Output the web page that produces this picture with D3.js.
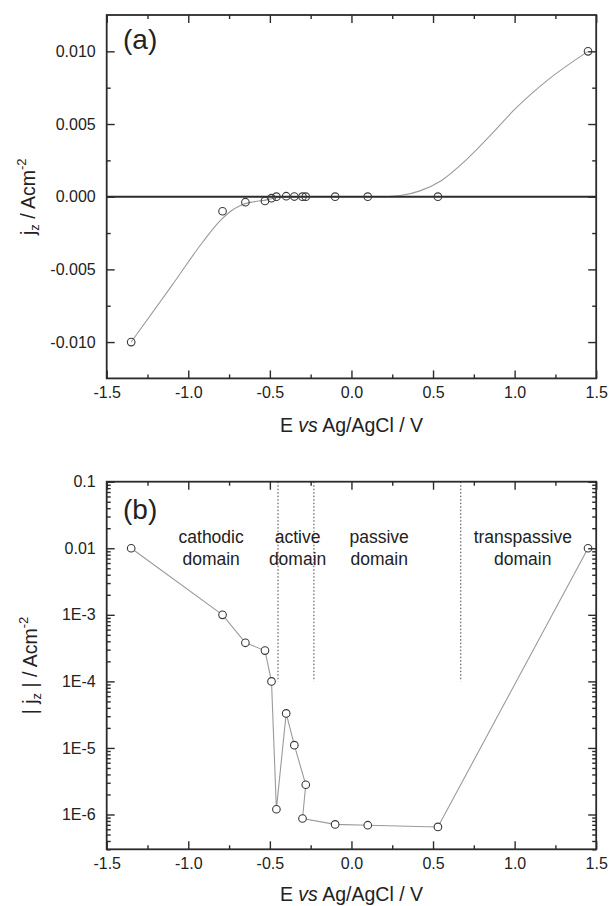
<!DOCTYPE html>
<html>
<head>
<meta charset="utf-8">
<script src="https://cdn.jsdelivr.net/npm/d3@7"></script>
<style>
  body { margin: 0; background: #fff; }
  svg text { font-family: "Liberation Sans", Arial, sans-serif; fill: #222; }
</style>
</head>
<body>
<svg id="chart" width="609" height="906"></svg>
<script>
// Measured points: potential E (V vs Ag/AgCl) and current density jz (A/cm2)
var potential = [-1.35, -0.79, -0.65, -0.53, -0.49, -0.46, -0.40, -0.35, -0.28, -0.30, -0.10, 0.10, 0.53, 1.45];
var current   = [-0.010, -0.001, -0.00038, -0.00029, -0.0001, 1.2e-6, 3.3e-5, 1.1e-5, 2.8e-6, 8.7e-7, 7.1e-7, 6.9e-7, 6.5e-7, 0.010];

// Smoothed curve of panel (a)
var fitE = [-1.35, -1.10, -0.91, -0.80, -0.74, -0.68, -0.60, -0.52, -0.45, -0.30, 0.00, 0.20, 0.30, 0.42, 0.55, 0.70, 0.85, 1.00, 1.20, 1.45];
var fitJ = [-0.0100, -0.0061, -0.0031, -0.0016, -0.0010, -0.0006, -0.00035, -0.00022, -0.00005, 0, 0, 0, 0.00008, 0.0004, 0.0011, 0.0025, 0.0042, 0.0060, 0.0080, 0.0100];

// Ticks
var xTicks = [-1.5, -1.0, -0.5, 0.0, 0.5, 1.0, 1.5];
var xMinorTicks = [-1.25, -0.75, -0.25, 0.25, 0.75, 1.25];
var jTicks = [-0.010, -0.005, 0.000, 0.005, 0.010];
var jMinorTicks = [-0.0075, -0.0025, 0.0025, 0.0075];
var logTicks = [1e-6, 1e-5, 1e-4, 1e-3, 0.01, 0.1];
var logTickLabels = ["1E-6", "1E-5", "1E-4", "1E-3", "0.01", "0.1"];

// Domain boundaries (dotted lines) and domain names of panel (b)
var domainBounds = [-0.45, -0.23, 0.67];
var domainNames = [["cathodic", "domain"], ["active", "domain"], ["passive", "domain"], ["transpassive", "domain"]];
var domainNameE = [-0.86, -0.33, 0.17, 1.05];


var svg = d3.select("#chart");

var x = d3.scaleLinear().domain([-1.5, 1.5]).range([106.7, 596.2]);
var ya = d3.scaleLinear().domain([-0.0125, 0.0125]).range([378.4, 15]);
var yb = d3.scaleLog().domain([3e-7, 0.1]).range([849.3, 481.7]);

var ink = "#2b2b2b";

// Frame with inward ticks on all four sides
function draw_frame(y, yMajor, yMinor, yFormat) {
  var top = y.range()[1], bottom = y.range()[0],
      left = x.range()[0], right = x.range()[1];
  var g = svg.append("g").attr("color", ink);

  function add(axis, tx, ty) {
    var a = g.append("g")
      .attr("transform", "translate(" + tx + "," + ty + ")")
      .call(axis)
      .attr("font-size", 16)
      .attr("font-family", '"Liberation Sans", Arial, sans-serif');
    a.select(".domain").remove();
    a.selectAll(".tick line").attr("stroke-width", 1.4);
    return a;
  }

  add(d3.axisBottom(x).tickValues(xTicks).tickSize(-8).tickPadding(8)
        .tickFormat(function(d) { return d.toFixed(1); }), 0, bottom);
  add(d3.axisBottom(x).tickValues(xMinorTicks).tickSize(-4).tickFormat(""), 0, bottom);
  add(d3.axisTop(x).tickValues(xTicks).tickSize(-8).tickFormat(""), 0, top);
  add(d3.axisTop(x).tickValues(xMinorTicks).tickSize(-4).tickFormat(""), 0, top);

  add(d3.axisLeft(y).tickValues(yMajor).tickSize(-8).tickPadding(11).tickFormat(yFormat), left, 0);
  add(d3.axisLeft(y).tickValues(yMinor).tickSize(-4).tickFormat(""), left, 0);
  add(d3.axisRight(y).tickValues(yMajor).tickSize(-8).tickFormat(""), right, 0);
  add(d3.axisRight(y).tickValues(yMinor).tickSize(-4).tickFormat(""), right, 0);

  g.append("rect")
    .attr("x", left).attr("y", top)
    .attr("width", right - left).attr("height", bottom - top)
    .attr("fill", "none").attr("stroke", ink).attr("stroke-width", 1.8);
}

// Rotated y title with subscript z and superscript -2
function y_title(tx, ty, pre, post) {
  var t = svg.append("text")
    .attr("transform", "translate(" + tx + "," + ty + ") rotate(-90)")
    .attr("text-anchor", "middle")
    .attr("font-size", 19.5);
  t.append("tspan").text(pre + "j");
  t.append("tspan").attr("font-size", 13).attr("dy", 4).text("z");
  t.append("tspan").attr("dy", -4).text(post + " / Acm");
  t.append("tspan").attr("font-size", 13).attr("dy", -9).text("-2");
}

function x_title(ty) {
  var t = svg.append("text")
    .attr("x", (x.range()[0] + x.range()[1]) / 2)
    .attr("y", ty)
    .attr("text-anchor", "middle")
    .attr("font-size", 19.5);
  t.append("tspan").text("E ");
  t.append("tspan").attr("font-style", "italic").text("vs");
  t.append("tspan").text(" Ag/AgCl / V");
}

function circles(pts, y, fill) {
  svg.append("g").selectAll("circle")
    .data(pts)
    .join("circle")
      .attr("cx", function(d) { return x(d[0]); })
      .attr("cy", function(d) { return y(d[1]); })
      .attr("r", 3.8)
      .attr("fill", fill)
      .attr("stroke", "#3a3a3a")
      .attr("stroke-width", 1.1);
}


////////////////////////////////////////////////
// Panel (a): linear current density

var fit = fitE.map(function(e, i) { return [e, fitJ[i]]; });
svg.append("path")
  .datum(fit)
  .attr("fill", "none")
  .attr("stroke", "#9a9a9a")
  .attr("stroke-width", 1.1)
  .attr("d", d3.line()
    .x(function(d) { return x(d[0]); })
    .y(function(d) { return ya(d[1]); })
    .curve(d3.curveMonotoneX));

svg.append("line")
  .attr("x1", x.range()[0]).attr("x2", x.range()[1])
  .attr("y1", ya(0)).attr("y2", ya(0))
  .attr("stroke", ink).attr("stroke-width", 2);

circles(potential.map(function(e, i) { return [e, current[i]]; }), ya, "none");

draw_frame(ya, jTicks, jMinorTicks, function(d) { return d.toFixed(3); });

svg.append("text")
  .attr("x", 123).attr("y", 49)
  .attr("font-size", 28)
  .text("(a)");

y_title(35, (ya.range()[0] + ya.range()[1]) / 2, "", "");
x_title(432);


////////////////////////////////////////////////
// Panel (b): |jz| on a log scale

var absPts = potential.map(function(e, i) { return [e, Math.abs(current[i])]; });

svg.append("g").selectAll("line")
  .data(domainBounds)
  .join("line")
    .attr("x1", function(d) { return x(d); })
    .attr("x2", function(d) { return x(d); })
    .attr("y1", yb(0.1))
    .attr("y2", yb(1e-4))
    .attr("stroke", "#444")
    .attr("stroke-width", 1)
    .attr("stroke-dasharray", "1.5,2");

svg.append("path")
  .datum(absPts)
  .attr("fill", "none")
  .attr("stroke", "#9a9a9a")
  .attr("stroke-width", 1.1)
  .attr("d", d3.line()
    .x(function(d) { return x(d[0]); })
    .y(function(d) { return yb(d[1]); }));

circles(absPts, yb, "#fff");

var logMinor = yb.ticks().filter(function(v) {
  return Math.abs(Math.log10(v) - Math.round(Math.log10(v))) > 1e-6;
});
draw_frame(yb, logTicks, logMinor, function(d) {
  return logTickLabels[logTicks.indexOf(d)];
});

var names = svg.append("g").attr("font-size", 17.5).attr("text-anchor", "middle");
domainNames.forEach(function(lines, i) {
  lines.forEach(function(s, k) {
    names.append("text")
      .attr("x", x(domainNameE[i]))
      .attr("y", yb(0.1) + 61 + k * 22)
      .text(s);
  });
});

svg.append("text")
  .attr("x", 123).attr("y", 519)
  .attr("font-size", 28)
  .text("(b)");

y_title(37, (yb.range()[0] + yb.range()[1]) / 2, "| ", " |");
x_title(901);
</script>
</body>
</html>
